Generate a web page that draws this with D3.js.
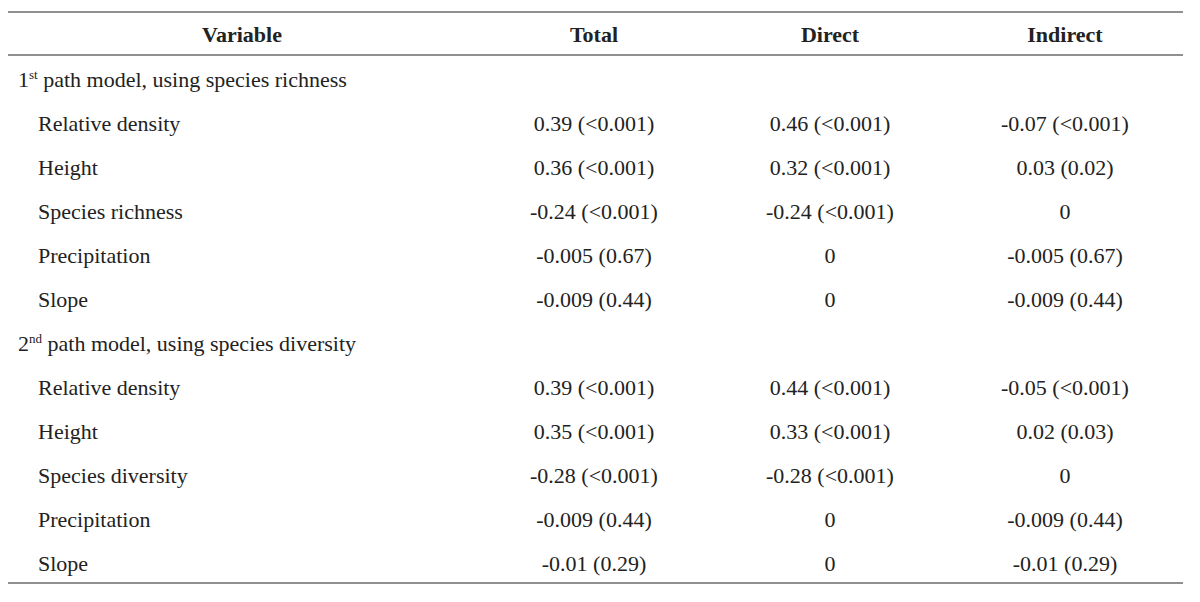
<!DOCTYPE html>
<html><head><meta charset="utf-8">
<script src="https://cdn.jsdelivr.net/npm/d3@7"></script>
<style>body{margin:0;background:#fff}</style></head>
<body><svg id="c" width="1200" height="602"></svg>
<script>
const headers = ["Variable","Total","Direct","Indirect"];
const sections = [["1","st"," path model, using species richness"],["2","nd"," path model, using species diversity"]];
const variables1 = ["Relative density","Height","Species richness","Precipitation","Slope"];
const total1 = ["0.39 (<0.001)","0.36 (<0.001)","-0.24 (<0.001)","-0.005 (0.67)","-0.009 (0.44)"];
const direct1 = ["0.46 (<0.001)","0.32 (<0.001)","-0.24 (<0.001)","0","0"];
const indirect1 = ["-0.07 (<0.001)","0.03 (0.02)","0","-0.005 (0.67)","-0.009 (0.44)"];
const variables2 = ["Relative density","Height","Species diversity","Precipitation","Slope"];
const total2 = ["0.39 (<0.001)","0.35 (<0.001)","-0.28 (<0.001)","-0.009 (0.44)","-0.01 (0.29)"];
const direct2 = ["0.44 (<0.001)","0.33 (<0.001)","-0.28 (<0.001)","0","0"];
const indirect2 = ["-0.05 (<0.001)","0.02 (0.03)","0","-0.009 (0.44)","-0.01 (0.29)"];

const svg = d3.select("#c");
const font = "'Liberation Serif','Times New Roman',serif";
const fs = 22;
const colX = d3.scaleOrdinal().domain(headers).range([242,594,830,1065]);
const rowY = d3.scaleLinear().domain([0,11]).range([79,563]);
const c = "#222";
svg.append("g").selectAll("line").data([12,55,583]).join("line")
  .attr("x1",8).attr("x2",1183).attr("y1",d=>d).attr("y2",d=>d)
  .attr("stroke",c).attr("stroke-width",1.2);
svg.append("g").selectAll("text").data(headers).join("text")
  .attr("x",d=>colX(d)).attr("y",34).attr("dy","0.35em").attr("text-anchor","middle")
  .attr("font-family",font).attr("font-weight","bold").attr("font-size",fs).attr("fill",c).text(d=>d);
const rows = [];
[[variables1,total1,direct1,indirect1],[variables2,total2,direct2,indirect2]].forEach((s,si)=>{
  rows.push({section:sections[si]});
  s[0].forEach((v,i)=>rows.push({cells:[v,s[1][i],s[2][i],s[3][i]]}));
});
rows.forEach((r,i)=>{
  const y = rowY(i);
  if(r.section){
    const t = svg.append("text").attr("x",18).attr("y",y).attr("dy","0.35em")
      .attr("font-family",font).attr("font-size",fs).attr("fill",c);
    t.append("tspan").text(r.section[0]);
    t.append("tspan").attr("font-size",13).attr("dy",-8).text(r.section[1]);
    t.append("tspan").attr("dy",8).text(r.section[2]);
  } else {
    r.cells.forEach((v,j)=>{
      svg.append("text").attr("x",j===0?38:colX(headers[j])).attr("y",y).attr("dy","0.35em")
        .attr("text-anchor",j===0?"start":"middle")
        .attr("font-family",font).attr("font-size",fs).attr("fill",c).text(v);
    });
  }
});
</script></body></html>
